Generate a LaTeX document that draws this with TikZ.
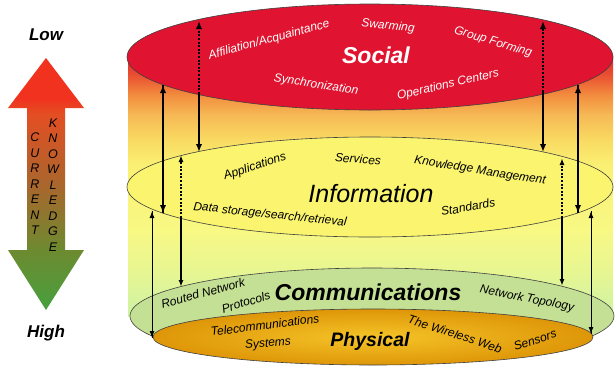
\documentclass[tikz,border=0pt]{standalone}
\usepackage{fontspec}
\setmainfont{Liberation Sans}
\usetikzlibrary{arrows.meta}
\definecolor{socialred}{RGB}{224,20,48}
\definecolor{infoyellow}{RGB}{250,244,110}
\definecolor{commgreen}{RGB}{196,224,148}
\definecolor{physdark}{RGB}{222,150,8}
\definecolor{physlight}{RGB}{245,196,40}
\definecolor{bA}{RGB}{226,40,45}
\definecolor{bB}{RGB}{234,80,50}
\definecolor{bC}{RGB}{242,140,62}
\definecolor{bD}{RGB}{246,185,85}
\definecolor{bE}{RGB}{249,218,98}
\definecolor{bF}{RGB}{250,240,115}
\definecolor{bG}{RGB}{248,248,132}
\definecolor{bH}{RGB}{232,246,145}
\definecolor{bI}{RGB}{205,242,165}
\definecolor{arrred}{RGB}{240,50,30}
\definecolor{arrorange}{RGB}{228,78,35}
\definecolor{arrbrown}{RGB}{170,102,45}
\definecolor{arrolive}{RGB}{110,138,48}
\definecolor{arrgreen}{RGB}{70,160,62}
\pgfdeclareverticalshading{cylbody}{100bp}{color(0bp)=(bI); color(25bp)=(bI); color(33.9bp)=(bH); color(41.6bp)=(bG); color(54.2bp)=(bF); color(59bp)=(bE); color(63.8bp)=(bD); color(67.7bp)=(bC); color(71.5bp)=(bB); color(75bp)=(bA); color(100bp)=(bA)}
\pgfdeclareverticalshading{knowarrow}{100bp}{color(0bp)=(arrgreen); color(25bp)=(arrgreen); color(37bp)=(arrolive); color(50bp)=(arrbrown); color(64bp)=(arrorange); color(67bp)=(arrred); color(100bp)=(arrred)}
\begin{document}
\begin{tikzpicture}[x=1pt,y=-1pt,
  lbl/.style={font=\fontsize{12}{14}\selectfont\itshape, inner sep=0pt},
  wlbl/.style={lbl, text=white},
  bigreg/.style={font=\fontsize{25}{28}\selectfont\itshape, inner sep=0pt},
  bigbold/.style={font=\fontsize{23}{26}\selectfont\bfseries\itshape, inner sep=0pt},
  endlbl/.style={font=\fontsize{17}{20}\selectfont\bfseries\itshape, inner sep=0pt},
  letters/.style={font=\fontsize{12.5}{15.5}\selectfont\itshape, align=center, inner sep=0pt},
  layer/.style={draw=black!75, line width=0.6pt},
  tipA/.style={-{Latex[length=8pt,width=6.5pt]}},
  tipB/.style={-{Latex[length=7pt,width=5pt]}},
  heavy/.style={line width=2pt},
  medium/.style={line width=1.4pt},
  light/.style={line width=1pt},
  hidden/.style={dash pattern=on 2pt off 1.6pt}
]
\useasboundingbox (0,0) rectangle (615,367);

% ---------- left knowledge arrow ----------
\shade[shading=knowarrow] (46,58) -- (84,108) -- (65,108) -- (65,250) -- (84,250)
  -- (46,310) -- (8,250) -- (27,250) -- (27,108) -- (8,108) -- cycle;
\node[endlbl] (low) at (46,35) {Low};
\node[endlbl] (high) at (46,333) {High};
\node[letters] (cur) at (35,184) {C\\U\\R\\R\\E\\N\\T};
\node[letters] (know) at (53,185) {K\\N\\O\\W\\L\\E\\D\\G\\E};

% ---------- cylinder body ----------
\shade[shading=cylbody] (128,57) rectangle (613,316);

% ---------- layers ----------
\draw[layer, fill=commgreen] (372,316) ellipse [x radius=242pt, y radius=48pt];
\draw[layer, inner color=physlight, outer color=physdark] (373,337) ellipse [x radius=220pt, y radius=28pt];
\draw[layer, fill=infoyellow] (370,187) ellipse [x radius=243pt, y radius=50pt];
\draw[layer, fill=socialred] (370,57) ellipse [x radius=243pt, y radius=53pt];

% ---------- connector end points ----------
\coordinate (a1t) at (163,85);  \coordinate (a1b) at (163,213);
\coordinate (a2t) at (199,21);  \coordinate (a2m) at (199,94);  \coordinate (a2b) at (199,152);
\coordinate (a3t) at (181,155); \coordinate (a3m) at (181,218); \coordinate (a3b) at (181,287);
\coordinate (a4t) at (152,211); \coordinate (a4b) at (152,338);
\coordinate (a5t) at (543,21);  \coordinate (a5m) at (543,92);  \coordinate (a5b) at (543,152);
\coordinate (a6t) at (578,85);  \coordinate (a6b) at (578,213);
\coordinate (a7t) at (562,158); \coordinate (a7m) at (562,218); \coordinate (a7b) at (562,286);
\coordinate (a8t) at (591,211); \coordinate (a8b) at (591,334);

% ---------- connectors ----------
\draw[heavy, tipA] (a1b) -- (a1t);
\draw[heavy, tipA] (a1t) -- (a1b);
\draw[heavy, hidden, tipA] (a2m) -- (a2t);
\draw[heavy, tipA] (a2m) -- (a2b);
\draw[medium, hidden, tipB] (a3m) -- (a3t);
\draw[medium, tipB] (a3m) -- (a3b);
\draw[light, tipB] (a4b) -- (a4t);
\draw[light, tipB] (a4t) -- (a4b);
\draw[heavy, hidden, tipA] (a5m) -- (a5t);
\draw[heavy, tipA] (a5m) -- (a5b);
\draw[heavy, tipA] (a6b) -- (a6t);
\draw[heavy, tipA] (a6t) -- (a6b);
\draw[medium, hidden, tipB] (a7m) -- (a7t);
\draw[medium, tipB] (a7m) -- (a7b);
\draw[light, tipB] (a8b) -- (a8t);
\draw[light, tipB] (a8t) -- (a8b);

% ---------- Social ----------
\node[bigbold, text=white] (social) at (376,55) {Social};
\node[wlbl, rotate=15] (affil) at (269,40) {Affiliation/Acquaintance};
\node[wlbl, rotate=-6] (swarm) at (388,26) {Swarming};
\node[wlbl, rotate=-17] (group) at (493,42) {Group Forming};
\node[wlbl, rotate=-9] (sync) at (316,85) {Synchronization};
\node[wlbl, rotate=13] (ops) at (448,85) {Operations Centers};

% ---------- Information ----------
\node[bigreg] (info) at (371,194) {Information};
\node[lbl, rotate=18] (apps) at (255,167) {Applications};
\node[lbl, rotate=-4] (serv) at (358,159) {Services};
\node[lbl, rotate=-9] (km) at (480,171) {Knowledge Management};
\node[lbl, rotate=-6] (data) at (270,215) {Data storage/search/retrieval};
\node[lbl, rotate=10] (std) at (468,207) {Standards};

% ---------- Communications ----------
\node[bigbold] (comm) at (368,292) {Communications};
\node[lbl, rotate=15] (routed) at (203,293) {Routed Network};
\node[lbl, rotate=17] (proto) at (246,302) {Protocols};
\node[lbl, rotate=-11] (topo) at (527,299) {Network Topology};

% ---------- Physical ----------
\node[font=\fontsize{19.5}{22}\selectfont\bfseries\itshape, inner sep=0pt] (phys) at (370,341) {Physical};
\node[lbl, rotate=7] (telecom) at (265,325) {Telecommunications};
\node[lbl, rotate=5] (systems) at (268,344) {Systems};
\node[lbl, rotate=-18] (wweb) at (455,334) {The Wireless Web};
\node[lbl, rotate=18] (sensors) at (535,340) {Sensors};
\end{tikzpicture}
\end{document}
